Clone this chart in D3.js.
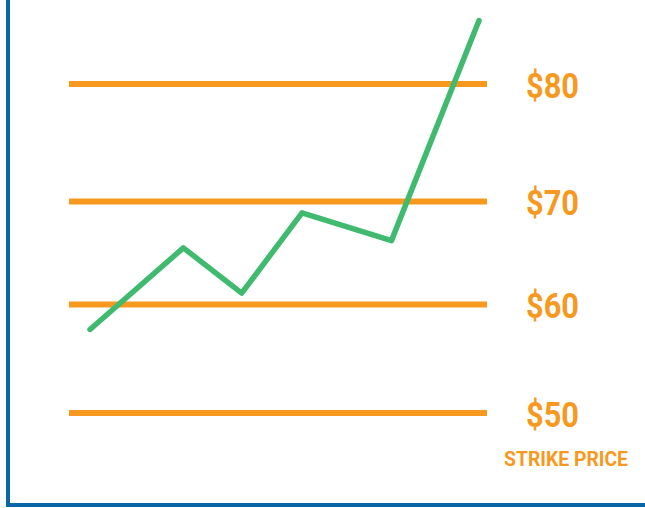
<!DOCTYPE html>
<html>
<head>
<meta charset="utf-8">
<script src="https://cdn.jsdelivr.net/npm/d3@7"></script>
<style>
  body { margin: 0; background: #fff; }
  svg { display: block; }
</style>
</head>
<body>
<div id="svgOutput"></div>
<script>
// data
const strikes = [50, 60, 70, 80];
const strikeLabels = ["$50", "$60", "$70", "$80"];
const days = [0, 24, 39, 54.5, 77.5, 100];
const prices = [57.7, 65.5, 61.1, 68.9, 66.2, 85.4];
const axisTitle = "STRIKE PRICE";

(function () {
  // config
  const width = 645;
  const height = 508;
  const orange = "#f7991f";
  const green = "#3fba6f";
  const blue = "#0867a8";

  // scales
  const xScale = d3.scaleLinear()
    .domain([0, 100])
    .range([90, 479]);

  // strike spacing in the picture is a little uneven, so piecewise
  const yScale = d3.scaleLinear()
    .domain(strikes)
    .range([413, 304.5, 201.5, 84]);

  const lineX = [69, 487];

  const svg = d3.select("#svgOutput")
    .append("svg")
    .attr("width", width)
    .attr("height", height)
    .attr("viewBox", [0, 0, width, height]);

  // frame
  svg.append("line")
    .attr("x1", 8).attr("x2", 8)
    .attr("y1", 0).attr("y2", 507)
    .attr("stroke", blue)
    .attr("stroke-width", 4);

  svg.append("line")
    .attr("x1", 6).attr("x2", width)
    .attr("y1", 505).attr("y2", 505)
    .attr("stroke", blue)
    .attr("stroke-width", 4);

  // strike lines
  svg.selectAll("line.strike")
    .data(strikes)
    .join("line")
    .attr("class", "strike")
    .attr("x1", lineX[0])
    .attr("x2", lineX[1])
    .attr("y1", d => yScale(d))
    .attr("y2", d => yScale(d))
    .attr("stroke", orange)
    .attr("stroke-width", 6);

  // strike labels
  svg.selectAll("text.strike-label")
    .data(strikes)
    .join("text")
    .attr("class", "strike-label")
    .attr("x", 526)
    .attr("y", d => yScale(d) + 13.5)
    .attr("fill", orange)
    .attr("font-family", "Roboto, sans-serif")
    .attr("font-weight", "bold")
    .attr("font-size", 35)
    .attr("textLength", 53)
    .attr("lengthAdjust", "spacingAndGlyphs")
    .text((d, i) => strikeLabels[i]);

  svg.append("text")
    .attr("x", 504)
    .attr("y", 466)
    .attr("fill", orange)
    .attr("font-family", "Roboto, sans-serif")
    .attr("font-weight", "bold")
    .attr("font-size", 19.5)
    .attr("textLength", 124)
    .attr("lengthAdjust", "spacingAndGlyphs")
    .text(axisTitle);

  // price line
  const line = d3.line()
    .x((d, i) => xScale(days[i]))
    .y(d => yScale(d));

  svg.append("path")
    .attr("d", line(prices))
    .attr("fill", "none")
    .attr("stroke", green)
    .attr("stroke-width", 5.5)
    .attr("stroke-linejoin", "round")
    .attr("stroke-linecap", "round");
})();
</script>
</body>
</html>
